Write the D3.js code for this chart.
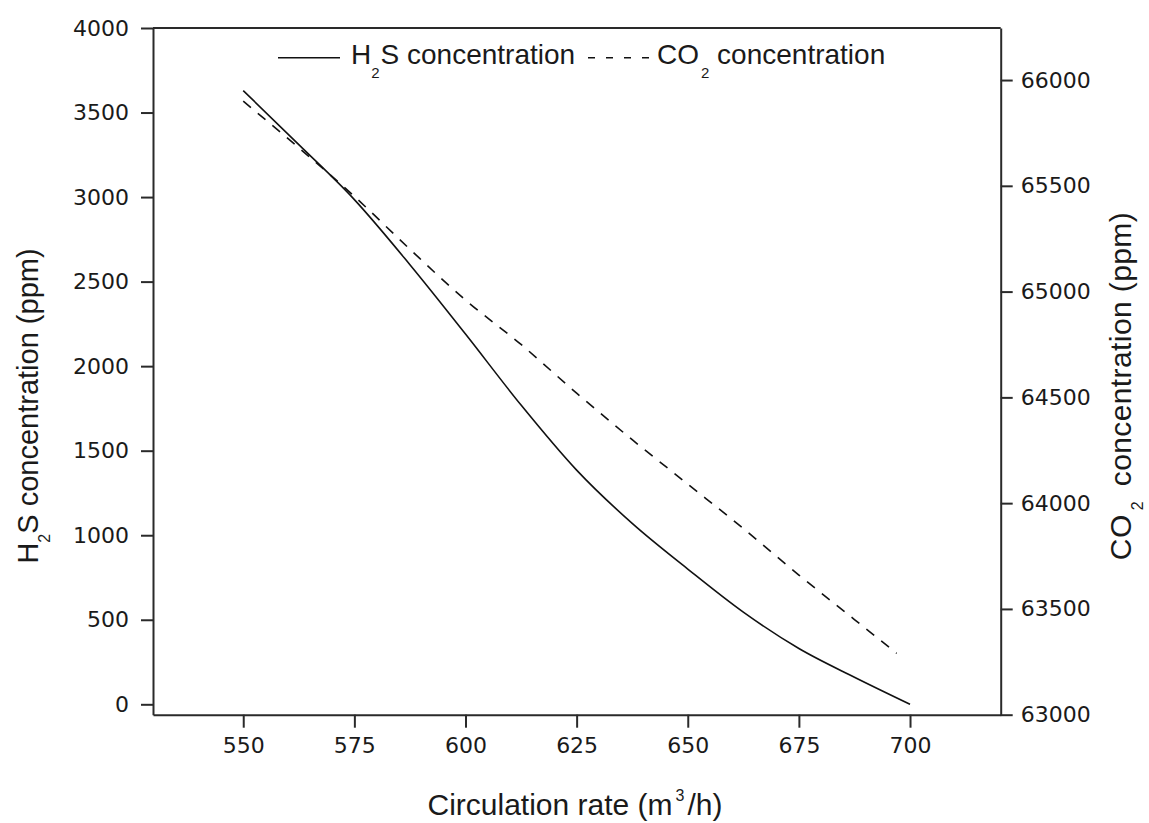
<!DOCTYPE html>
<html>
<head>
<meta charset="utf-8">
<script src="https://cdn.jsdelivr.net/npm/d3@7/dist/d3.min.js"></script>
<style>
  html, body { margin: 0; padding: 0; background: #fff; }
  svg { display: block; }
</style>
</head>
<body>
<svg id="chart" width="1149" height="823"></svg>
<script>
// ---- data ----
const circulationRates = [550, 562.5, 575, 587.5, 600, 612.5, 625, 637.5, 650, 662.5, 675, 687.5, 700];
const h2sConcentration = [3630, 3310, 2985, 2600, 2190, 1770, 1385, 1070, 800, 545, 330, 160, 0];
const co2Rates = [550, 562.5, 575, 587.5, 600, 612.5, 625, 637.5, 650, 662.5, 675, 687.5, 697];
const co2Concentration = [65900, 65680, 65450, 65200, 64960, 64750, 64520, 64300, 64090, 63880, 63660, 63450, 63290];
const xTickValues = [550, 575, 600, 625, 650, 675, 700];
const leftTickValues = [0, 500, 1000, 1500, 2000, 2500, 3000, 3500, 4000];
const rightTickValues = [63000, 63500, 64000, 64500, 65000, 65500, 66000];

// ---- layout ----
const L = 153, R = 1000.7, T = 28, B = 714.7;
const svg = d3.select("#chart");

const x = d3.scaleLinear().domain([529.7, 720.4]).range([L, R]);
const yL = d3.scaleLinear().domain([-61.5, 4000]).range([B, T]);
const yR = d3.scaleLinear().domain([63000, 66246]).range([B, T]);

const tickFont = "'DejaVu Sans', Verdana, sans-serif";
const labelFont = "'Liberation Sans', Arial, sans-serif";
const axisColor = "#2a2a2a";
const textColor = "#1a1a1a";

function styleAxis(g) {
  g.selectAll("path.domain").attr("stroke", axisColor).attr("stroke-width", 2);
  g.selectAll(".tick line").attr("stroke", axisColor).attr("stroke-width", 2);
  g.selectAll(".tick text").attr("fill", textColor)
    .style("font-family", tickFont).style("font-size", "22px");
}

// frame top line
svg.append("line").attr("x1", L).attr("x2", R).attr("y1", T).attr("y2", T)
  .attr("stroke", axisColor).attr("stroke-width", 2);

// axes
svg.append("g").attr("transform", `translate(0,${B})`)
  .call(d3.axisBottom(x).tickValues(xTickValues).tickSize(13).tickPadding(10).tickSizeOuter(0).tickFormat(d3.format("d")))
  .call(styleAxis);

svg.append("g").attr("transform", `translate(${L},0)`)
  .call(d3.axisLeft(yL).tickValues(leftTickValues).tickSize(12).tickPadding(12).tickSizeOuter(0).tickFormat(d3.format("d")))
  .call(styleAxis);

svg.append("g").attr("transform", `translate(${R},0)`)
  .call(d3.axisRight(yR).tickValues(rightTickValues).tickSize(12).tickPadding(8).tickSizeOuter(0).tickFormat(d3.format("d")))
  .call(styleAxis);

// lines
const h2sLine = d3.line()
  .x((d, i) => x(circulationRates[i]))
  .y(d => yL(d))
  .curve(d3.curveMonotoneX);
const co2Line = d3.line()
  .x((d, i) => x(co2Rates[i]))
  .y(d => yR(d))
  .curve(d3.curveMonotoneX);

svg.append("path").datum(h2sConcentration).attr("d", h2sLine)
  .attr("fill", "none").attr("stroke", "#111").attr("stroke-width", 1.6);
svg.append("path").datum(co2Concentration).attr("d", co2Line)
  .attr("fill", "none").attr("stroke", "#111").attr("stroke-width", 1.6)
  .attr("stroke-dasharray", "10,9");

// legend
const legY = 57.7;
svg.append("line").attr("x1", 278).attr("x2", 340).attr("y1", legY).attr("y2", legY)
  .attr("stroke", "#111").attr("stroke-width", 1.6);
const leg1 = svg.append("text").attr("x", 351).attr("y", 63.5)
  .style("font-family", labelFont).style("font-size", "28px").attr("fill", textColor);
leg1.append("tspan").text("H");
leg1.append("tspan").text("2").style("font-size", "15px").attr("dy", 14);
leg1.append("tspan").text("S concentration").attr("dy", -14).attr("dx", 1);

svg.append("line").attr("x1", 588).attr("x2", 651).attr("y1", legY).attr("y2", legY)
  .attr("stroke", "#111").attr("stroke-width", 1.6).attr("stroke-dasharray", "7,11");
const leg2 = svg.append("text").attr("x", 657).attr("y", 63.5)
  .style("font-family", labelFont).style("font-size", "28px").attr("fill", textColor);
leg2.append("tspan").text("CO");
leg2.append("tspan").text("2").style("font-size", "15px").attr("dy", 14).attr("dx", 2);
leg2.append("tspan").text(" concentration").attr("dy", -14);

// x title
const xt = svg.append("text").attr("x", 575).attr("y", 815).attr("text-anchor", "middle")
  .style("font-family", labelFont).style("font-size", "30px").attr("fill", textColor);
xt.append("tspan").text("Circulation rate (m");
xt.append("tspan").text("3").style("font-size", "16px").attr("dy", -14).attr("dx", 3);
xt.append("tspan").text("/h)").attr("dy", 14).attr("dx", 3);

// left title
const lt = svg.append("text").attr("transform", "translate(38,406) rotate(-90)")
  .attr("text-anchor", "middle")
  .style("font-family", labelFont).style("font-size", "29px").attr("fill", textColor);
lt.append("tspan").text("H");
lt.append("tspan").text("2").style("font-size", "16px").attr("dy", 12);
lt.append("tspan").text("S concentration (ppm)").attr("dy", -12);

// right title
const rt = svg.append("text").attr("transform", "translate(1131,386) rotate(-90)")
  .attr("text-anchor", "middle")
  .style("font-family", labelFont).style("font-size", "30px").style("letter-spacing", "0.4px")
  .attr("fill", textColor);
rt.append("tspan").text("CO");
rt.append("tspan").text("2").style("font-size", "16px").attr("dy", 12).attr("dx", 4);
rt.append("tspan").text(" concentration (ppm)").attr("dy", -12).attr("dx", 6);
</script>
</body>
</html>
